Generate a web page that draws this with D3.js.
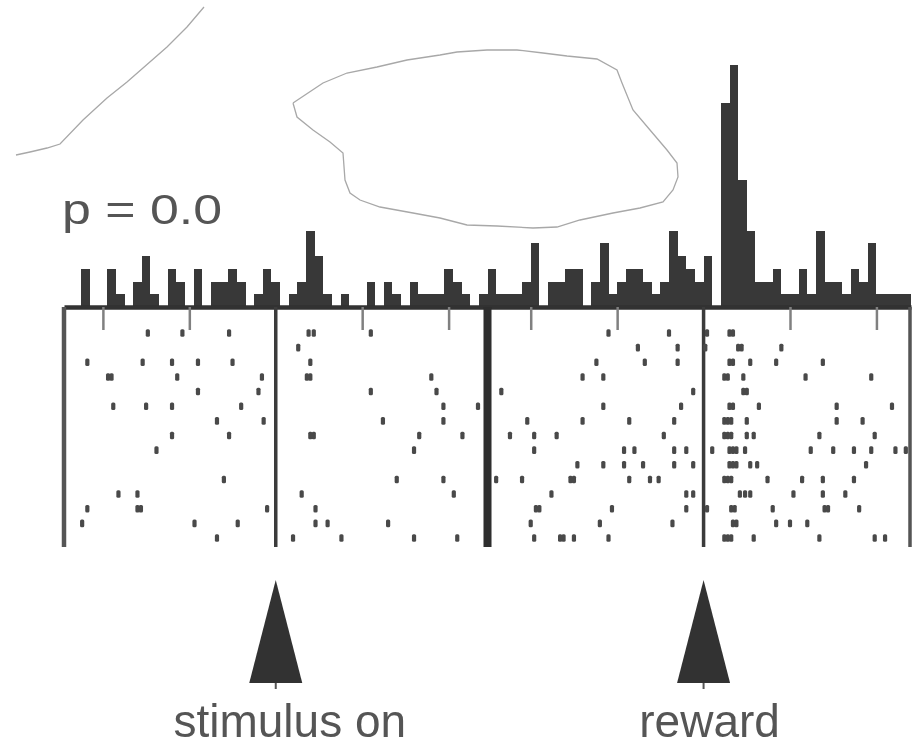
<!DOCTYPE html>
<html>
<head>
<meta charset="utf-8">
<script src="https://cdn.jsdelivr.net/npm/d3@7"></script>
<style>
  body { margin: 0; background: #fff; }
  svg { display: block; }
</style>
</head>
<body>
<svg id="chart" width="924" height="747"></svg>
<script>
"use strict";

// ---- data ----
const binWidth = 0.05; // s
// spike counts per 50 ms bin, stimulus aligned (bin centres -1.2 .. 1.2 s)
const stimCounts = [0,0,3,0,0,3,1,0,2,4,1,0,3,2,0,3,0,2,2,3,2,0,1,3,2,
                    0,1,2,6,4,1,0,1,0,0,2,0,2,1,0,2,1,1,1,3,2,1,0,1];
// spike counts per 50 ms bin, reward aligned (bin starts -1.25 .. 1.15 s)
const rewardCounts = [3,1,1,1,2,5,0,2,2,3,3,0,2,5,1,2,3,3,2,1,2,6,4,3,2,
                      4,0,16,19,10,6,2,2,3,1,1,3,1,6,2,2,1,3,2,5,1,1,1,1];

// raster, one array per trial, spike times in s
const stimSpikes = [
  [-0.74, -0.54, -0.27, 0.19, 0.22, 0.55],
  [0.13],
  [-1.09, -0.77, -0.60, -0.45, -0.25, 0.20],
  [-0.97, -0.95, -0.57, -0.08, 0.18, 0.20, 0.90],
  [-0.45, -0.10, 0.55, 0.93],
  [-0.94, -0.75, -0.60, -0.20, 0.97, 1.17],
  [-0.34, -0.07, 0.62, 0.97],
  [-0.60, -0.27, 0.20, 0.22, 0.83, 1.08],
  [-0.69, 0.80],
  [],
  [-0.30, 0.70, 0.97],
  [-0.91, -0.80, 0.15, 1.03],
  [-1.09, -0.80, -0.78, -0.05, 0.23],
  [-1.12, -0.47, -0.22, 0.23, 0.30, 0.65],
  [-0.34, 0.10, 0.38, 0.80, 1.05]
];
const rewardSpikes = [
  [-0.55, -0.20, 0.02, 0.15, 0.17],
  [-0.38, -0.15, 0.01, 0.20, 0.22, 0.45],
  [-0.62, -0.34, -0.15, 0.15, 0.17, 0.27, 0.42, 0.69],
  [-0.70, -0.58, 0.12, 0.14, 0.23, 0.59, 0.97],
  [-1.17, -0.06, 0.23, 0.25],
  [-0.58, -0.13, 0.15, 0.17, 0.32, 0.77, 1.09],
  [-1.02, -0.70, -0.43, -0.17, 0.12, 0.14, 0.16, 0.25, 0.77, 0.92],
  [-1.12, -0.98, -0.85, -0.23, 0.12, 0.14, 0.16, 0.25, 0.29, 0.67, 0.99],
  [-0.98, -0.46, -0.40, -0.17, -0.10, 0.05, 0.15, 0.17, 0.19, 0.24, 0.62, 0.75, 0.87, 0.97, 1.11, 1.17],
  [-0.73, -0.58, -0.46, -0.35, -0.17, -0.06, 0.15, 0.17, 0.19, 0.27, 0.31, 0.94],
  [-1.20, -1.05, -0.77, -0.75, -0.43, -0.31, -0.26, 0.12, 0.14, 0.16, 0.37, 0.57, 0.69, 0.87],
  [-0.88, -0.10, -0.06, 0.21, 0.24, 0.27, 0.52, 0.69, 0.82],
  [-0.97, -0.95, -0.53, -0.10, 0.02, 0.16, 0.18, 0.40, 0.70, 0.72, 0.90],
  [-1.00, -0.60, -0.18, 0.17, 0.19, 0.42, 0.50, 0.60],
  [-0.98, -0.83, -0.81, -0.75, -0.55, 0.12, 0.14, 0.16, 0.29, 0.67, 0.99, 1.05]
];

const tickTimes = [-1, -0.5, 0.5, 1];
const eventLabels = ["stimulus on", "reward"];
const pLabel = "p = 0.0";

// outlines of the erased patches in the scan (pixel coords)
const maskOutlines = [
  [[16,155],[30,152],[47,148],[60,144],[83,120],[107,98],[127,82],[143,68],[167,47],[187,27],[204,7]],
  [[293,103],[305,95],[323,83],[347,73],[377,67],[407,60],[440,55],[457,52],[487,50],[517,50],[543,53],
   [567,56],[597,59],[617,70],[622,83],[633,110],[650,130],[667,150],[677,163],[678,177],[673,190],
   [663,202],[640,208],[613,213],[580,220],[557,227],[533,228],[497,226],[467,225],[440,218],[413,213],
   [380,207],[360,200],[350,193],[345,180],[343,153],[330,142],[313,130],[297,117],[293,103]]
];

// ---- layout ----
const baseY = 307, rasterBottom = 547;
const ink = "#383838";

const xStim = d3.scaleLinear().domain([-1.225, 1.225]).range([64, 487.5]);
const xRew = d3.scaleLinear().domain([-1.25, 1.2]).range([487.5, 911]);
const yHist = d3.scaleLinear().domain([0, 19]).range([baseY, 65]);
const yTrial = d3.scalePoint().domain(d3.range(15)).range([333, 538]);

const svg = d3.select("#chart");

svg.append("defs").append("filter").attr("id", "soft")
  .append("feGaussianBlur").attr("stdDeviation", 0.45);

const root = svg.append("g").attr("filter", "url(#soft)");

// erased-patch outlines
root.append("g").selectAll("path")
  .data(maskOutlines)
  .join("path")
  .attr("d", d3.line())
  .attr("fill", "none")
  .attr("stroke", "#a8a8a8")
  .attr("stroke-width", 1.3);

// histogram bars
function drawHist(counts, x, firstStart) {
  const bins = counts.map((c, i) => ({ t0: firstStart + i * binWidth, c: c }));
  root.append("g").selectAll("rect")
    .data(bins.filter(d => d.c > 0))
    .join("rect")
    .attr("x", d => x(d.t0))
    .attr("width", d => x(d.t0 + binWidth) - x(d.t0))
    .attr("y", d => yHist(d.c))
    .attr("height", d => baseY - yHist(d.c))
    .attr("fill", ink)
    .attr("shape-rendering", "crispEdges");
}
drawHist(stimCounts, xStim, -1.225);
drawHist(rewardCounts, xRew, -1.25);

// axes (baseline + downward ticks)
function drawAxis(x) {
  const g = root.append("g")
    .attr("transform", "translate(0," + baseY + ")")
    .call(d3.axisBottom(x).tickValues(tickTimes).tickSize(23).tickSizeOuter(0).tickFormat(""));
  g.select(".domain").attr("stroke", "#303030").attr("stroke-width", 4.5);
  g.selectAll(".tick line").attr("stroke", "#808080").attr("stroke-width", 2.5);
}
drawAxis(xStim);
drawAxis(xRew);

// vertical borders and event lines
const verticals = [
  { x: xStim(-1.225), w: 4.5, c: "#555" },
  { x: xStim(0), w: 3.5, c: "#3a3a3a" },
  { x: xStim(1.225), w: 8, c: "#2e2e2e" },
  { x: xRew(0), w: 3.5, c: "#3a3a3a" },
  { x: xRew(1.2) - 1, w: 3.5, c: "#555" }
];
root.append("g").selectAll("line")
  .data(verticals)
  .join("line")
  .attr("x1", d => d.x).attr("x2", d => d.x)
  .attr("y1", baseY).attr("y2", rasterBottom)
  .attr("stroke", d => d.c)
  .attr("stroke-width", d => d.w);

// raster ticks
function drawRaster(trials, x) {
  const pts = [];
  trials.forEach((ts, i) => ts.forEach(t => pts.push({ trial: i, t: t })));
  root.append("g").selectAll("rect")
    .data(pts)
    .join("rect")
    .attr("x", d => x(d.t) - 2.1)
    .attr("y", d => yTrial(d.trial) - 3.8)
    .attr("width", 4.2)
    .attr("height", 7.6)
    .attr("rx", 1.5)
    .attr("fill", "#4a4a4a");
}
drawRaster(stimSpikes, xStim);
drawRaster(rewardSpikes, xRew);

// event arrows and labels
const events = [
  { label: eventLabels[0], x: xStim(0), textX: xStim(0) + 14 },
  { label: eventLabels[1], x: xRew(0), textX: xRew(0) + 6 }
];
const tri = d3.line()([[0, -103], [26.5, 0], [-26.5, 0]]) + "Z";
const ev = root.append("g").selectAll("g")
  .data(events)
  .join("g");
ev.append("path")
  .attr("transform", d => "translate(" + d.x + ",683)")
  .attr("d", tri)
  .attr("fill", "#333");
ev.append("line")
  .attr("x1", d => d.x).attr("x2", d => d.x)
  .attr("y1", 683).attr("y2", 689)
  .attr("stroke", "#555").attr("stroke-width", 2);
ev.append("text")
  .attr("x", d => d.textX)
  .attr("y", 737)
  .attr("text-anchor", "middle")
  .attr("font-family", "'Liberation Sans', Arial, Helvetica, sans-serif")
  .attr("font-size", 46)
  .attr("fill", "#555")
  .text(d => d.label);

// p label
root.append("text")
  .attr("x", 62)
  .attr("y", 224)
  .attr("font-family", "'Liberation Sans', Arial, Helvetica, sans-serif")
  .attr("font-size", 43)
  .attr("textLength", 160)
  .attr("lengthAdjust", "spacingAndGlyphs")
  .attr("fill", "#555")
  .text(pLabel);
</script>
</body>
</html>
